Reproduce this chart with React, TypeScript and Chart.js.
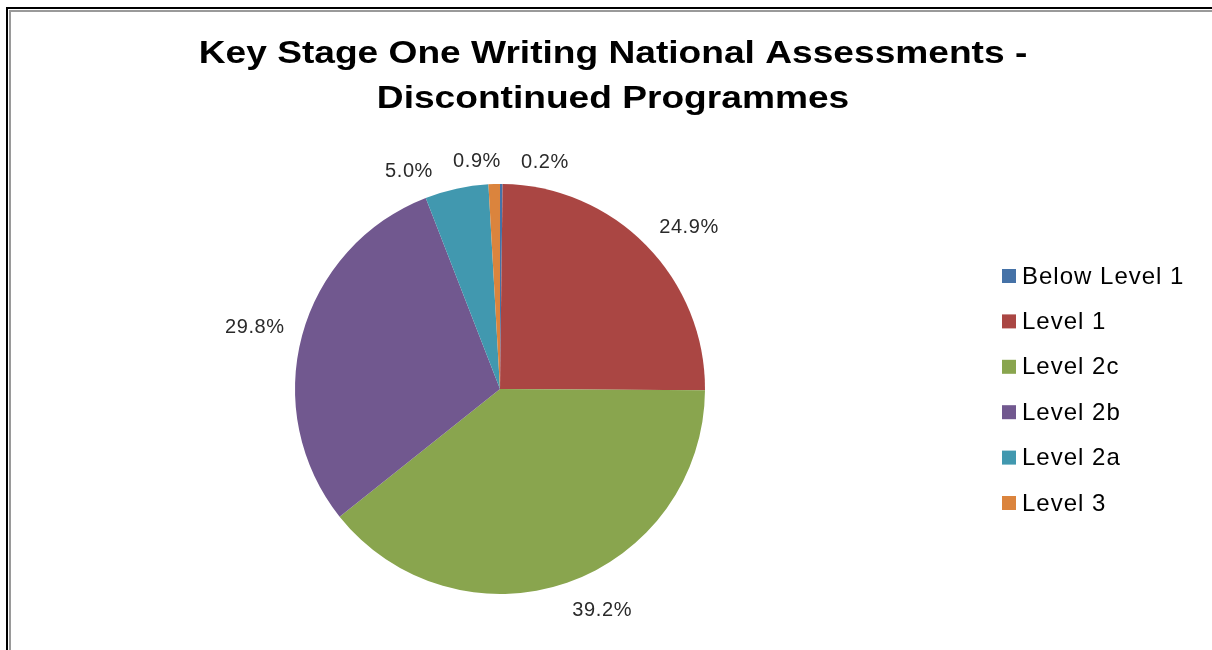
import React, { useEffect, useRef } from "react";
import { Chart, registerables } from "chart.js";

Chart.register(...registerables);

const titleLines = ["Key Stage One Writing National Assessments -", "Discontinued Programmes"];
const categories = ["Below Level 1", "Level 1", "Level 2c", "Level 2b", "Level 2a", "Level 3"];
const values = [0.2, 24.9, 39.2, 29.8, 5.0, 0.9];
const colors = ["#4572A7", "#AA4643", "#89A54E", "#71588F", "#4198AF", "#DB843D"];

const FONT = "'Liberation Sans', Arial, sans-serif";

const clamp01 = (v: number) => Math.max(0, Math.min(1, v));

const decorPlugin = {
  id: "decor",
  afterDraw(chart: any) {
    const ctx = chart.ctx as CanvasRenderingContext2D;
    const W = chart.width;
    const H = chart.height;
    ctx.save();
    // frame
    ctx.fillStyle = "#000";
    ctx.fillRect(6, 7, 2, H);
    ctx.fillRect(6, 7, W, 2);
    ctx.fillStyle = "#9a9a9a";
    ctx.fillRect(9, 10, 2, H);
    ctx.fillRect(9, 10, W, 2);

    // title (horizontally widened like the reference rendering)
    ctx.fillStyle = "#000";
    ctx.font = `bold 32px ${FONT}`;
    ctx.textAlign = "center";
    ctx.textBaseline = "alphabetic";
    ctx.save();
    ctx.translate(613, 0);
    ctx.scale(1.16, 1);
    ctx.fillText(titleLines[0], 0, 63);
    ctx.fillText(titleLines[1], 0, 108);
    ctx.restore();

    // data labels
    const meta = chart.getDatasetMeta(0);
    const total = values.reduce((a, b) => a + b, 0);
    ctx.font = `20px ${FONT}`;
    (ctx as any).letterSpacing = "0.6px";
    const boxes: any[] = [];
    let x0 = 0;
    let y0 = 0;
    let R = 0;
    const d = 18;
    const h = 16;
    meta.data.forEach((arc: any, i: number) => {
      const p = arc.getProps(["x", "y", "startAngle", "endAngle", "outerRadius"], true);
      x0 = p.x;
      y0 = p.y;
      R = p.outerRadius + d;
      const mid = (p.startAngle + p.endAngle) / 2;
      const c = Math.cos(mid);
      const s = Math.sin(mid);
      const text = ((values[i] / total) * 100).toFixed(1) + "%";
      const w = ctx.measureText(text).width;
      const ax = p.x + c * R;
      const ay = p.y + s * R;
      boxes.push({
        text,
        w,
        h,
        s,
        cx: ax + Math.sign(c) * (w / 2) * clamp01(Math.abs(c) * 3),
        cy: ay + Math.sign(s) * (h / 2) * clamp01(Math.abs(s) * 3),
      });
    });
    // collision resolution: push apart horizontally, keep corner on circle
    const gap = 20;
    for (let iter = 0; iter < 80; iter++) {
      let moved = false;
      for (let a = 0; a < boxes.length; a++) {
        for (let b = a + 1; b < boxes.length; b++) {
          const A = boxes[a];
          const B = boxes[b];
          const needX = (A.w + B.w) / 2 + gap;
          const dx = B.cx - A.cx;
          const dy = B.cy - A.cy;
          if (Math.abs(dx) < needX - 0.01 && Math.abs(dy) < (A.h + B.h) / 2 + 8) {
            const push = (needX - Math.abs(dx)) / 2;
            const sgn = dx >= 0 ? 1 : -1;
            A.cx -= sgn * push;
            B.cx += sgn * push;
            A.moved = true;
            B.moved = true;
            moved = true;
          }
        }
      }
      if (!moved) break;
    }
    boxes.forEach((bx) => {
      if (!bx.moved || Math.abs(bx.s) < 0.5) return;
      const left = bx.cx - bx.w / 2;
      const right = bx.cx + bx.w / 2;
      let dxn = 0;
      if (left > x0) dxn = left - x0;
      else if (right < x0) dxn = x0 - right;
      const dyn = Math.sqrt(Math.max(0, R * R - dxn * dxn));
      bx.cy = y0 + Math.sign(bx.s) * (dyn + bx.h / 2);
    });
    ctx.fillStyle = "#2a2a2a";
    ctx.textAlign = "center";
    ctx.textBaseline = "middle";
    boxes.forEach((bx) => ctx.fillText(bx.text, bx.cx, bx.cy + 3));

    // legend
    ctx.font = `24px ${FONT}`;
    (ctx as any).letterSpacing = "1px";
    ctx.textAlign = "left";
    ctx.textBaseline = "middle";
    const lx = 1002;
    const ly0 = 276;
    const step = 45.4;
    categories.forEach((cat, i) => {
      const y = ly0 + i * step;
      ctx.fillStyle = colors[i];
      ctx.fillRect(lx, y - 7, 14, 14);
      ctx.fillStyle = "#000";
      ctx.fillText(cat, lx + 20, y + 1);
    });
    (ctx as any).letterSpacing = "0px";
    ctx.restore();
  },
};

export default function App() {
  const ref = useRef<HTMLCanvasElement | null>(null);
  useEffect(() => {
    if (!ref.current) return;
    const chart = new Chart(ref.current, {
      type: "pie",
      data: {
        labels: categories,
        datasets: [
          {
            data: values,
            backgroundColor: colors,
            borderWidth: 0,
          },
        ],
      },
      options: {
        responsive: false,
        animation: false,
        devicePixelRatio: 1,
        layout: { padding: { left: 295, right: 507, top: 184, bottom: 56 } },
        plugins: {
          legend: { display: false },
          title: { display: false },
          tooltip: { enabled: false },
        },
      },
      plugins: [decorPlugin],
    });
    return () => chart.destroy();
  }, []);
  return (
    <div style={{ position: "fixed", left: 0, top: 0, width: 1212, height: 650, background: "#fff" }}>
      <canvas ref={ref} width={1212} height={650} style={{ display: "block" }} />
    </div>
  );
}
